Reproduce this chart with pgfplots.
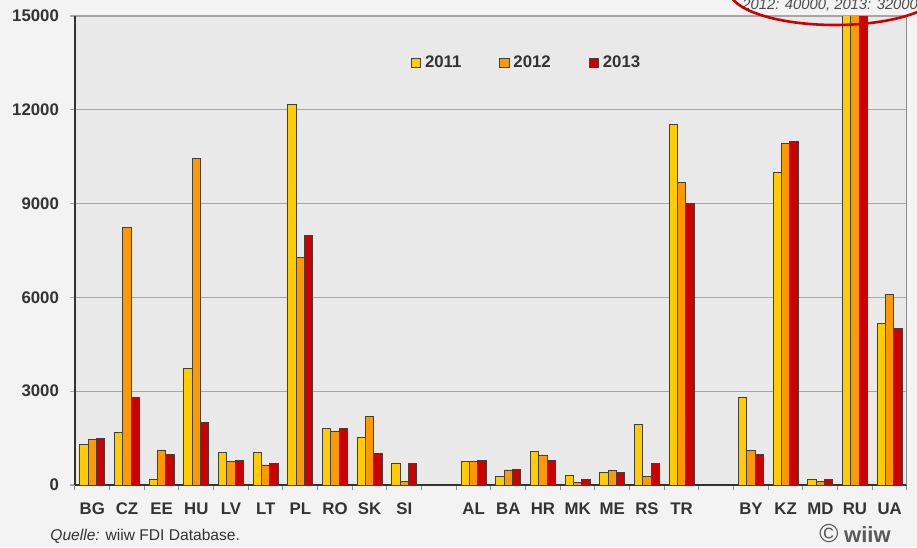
\documentclass[border=0pt]{standalone}
\usepackage{fontspec}
\setmainfont{Liberation Sans}
\usepackage{pgfplots}
\pgfplotsset{compat=1.18}
\usepackage{pgfplotstable}
\definecolor{c11}{HTML}{FFCC00}
\definecolor{c12}{HTML}{FF9900}
\definecolor{c13}{HTML}{CC0000}
\definecolor{figbg}{HTML}{F3F3F3}
\definecolor{plotbg}{HTML}{E9E9E9}
\definecolor{gridc}{HTML}{A6A6A6}
\definecolor{txt}{HTML}{333333}
\pgfplotstableread{
x c a b d
0 BG 1310 1470 1490
1 CZ 1670 8240 2790
2 EE 170 1120 990
3 HU 3740 10450 1990
4 LV 1040 760 790
5 LT 1030 640 680
6 PL 12180 7270 7990
7 RO 1800 1730 1800
8 SK 1525 2190 995
9 SI 705 107 695
11 AL 740 740 790
12 BA 280 480 490
13 HR 1070 960 790
14 MK 320 90 190
15 ME 390 460 390
16 RS 1940 260 680
17 TR 11540 9670 9010
19 BY 2790 1110 990
20 KZ 9990 10910 10990
21 MD 190 110 190
22 RU 55000 40000 32000
23 UA 5170 6090 5000
}\data
\begin{document}
\begin{tikzpicture}
\useasboundingbox (0,0) rectangle (458.5pt,273.5pt);
\clip (0,0) rectangle (458.5pt,273.5pt);
\fill[figbg] (0,0) rectangle (458.5pt,273.5pt);
\begin{axis}[
  at={(37.5pt,31pt)}, anchor=south west, scale only axis,
  width=416pt, height=234.5pt,
  ybar, bar width=0.24,
  xmin=-0.5, xmax=23.5, ymin=0, ymax=15000,
  axis background/.style={fill=plotbg},
  axis x line*=bottom, axis y line*=left,
  axis line style={-, draw=black!80, line width=0.8pt},
  xtick={0,1,...,9,11,12,...,17,19,20,...,23},
  xticklabels={BG,CZ,EE,HU,LV,LT,PL,RO,SK,SI,AL,BA,HR,MK,ME,RS,TR,BY,KZ,MD,RU,UA},
  major x tick style={draw=none},
  minor xtick={-0.5,0.5,...,23.5},
  minor x tick style={draw=black!45, line width=0.5pt},
  minor tick length=2.5pt, major tick length=2.5pt,
  tick align=outside,
  ytick={0,3000,...,15000},
  y tick style={draw=gridc, line width=0.6pt},
  ymajorgrids, grid style={gridc, line width=0.6pt},
  scaled y ticks=false,
  /pgf/number format/1000 sep={},
  /pgf/number format/assume math mode=true,
  xticklabel style={text=txt, font=\bfseries\fontsize{8.4}{10}\selectfont, yshift=-3pt},
  yticklabel style={text=txt, font=\bfseries\fontsize{8.4}{10}\selectfont, xshift=-2pt},
  legend style={at={(0.544,0.9)}, anchor=center, draw=none, fill=none,
    font=\bfseries\fontsize{8.4}{10}\selectfont, text=txt,
    /tikz/every even column/.append style={column sep=17pt}},
  legend columns=3,
  legend image code/.code={\draw[#1, draw=black!75, line width=0.4pt] (0pt,-2.3pt) rectangle (4.6pt,2.3pt);},
]
\addplot[fill=c11, draw=black!75, line width=0.4pt, bar shift=-0.24] table[x=x,y=a]{\data};
\addplot[fill=c12, draw=black!75, line width=0.4pt, bar shift=0] table[x=x,y=b]{\data};
\addplot[fill=c13, draw=black!75, line width=0.4pt, bar shift=0.24] table[x=x,y=d]{\data};
\legend{2011,2012,2013}
\draw[black!45, line width=1pt] (rel axis cs:1,0) -- (rel axis cs:1,1);
\end{axis}
\node[anchor=base west, text=txt, font=\fontsize{7.8}{9}\selectfont, inner sep=0] at (25pt,3pt) {\textit{Quelle:} wiiw FDI Database.};
\node[anchor=base east, inner sep=0, text=black!65] at (445.5pt,2pt) {{\fontsize{13}{14}\selectfont\textcopyright}\ {\bfseries\fontsize{11}{12}\selectfont wiiw}};
\node[anchor=base west, inner sep=0, font=\itshape\fontsize{7.4}{9}\selectfont, text=black!70] at (371pt,268.5pt) {2012: 40000, 2013: 32000};
\draw[c13, line width=1.3pt] (417.5pt,278.5pt) ellipse [x radius=53pt, y radius=17.5pt];
\end{tikzpicture}
\end{document}
